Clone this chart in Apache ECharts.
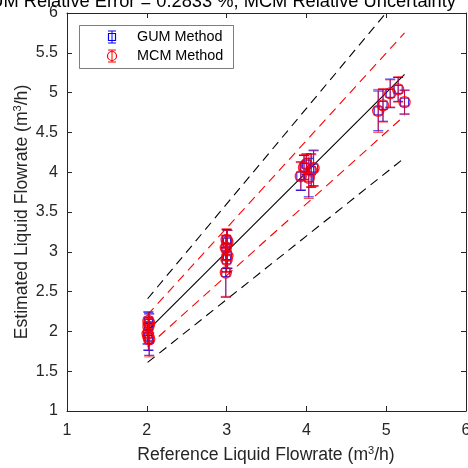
<!DOCTYPE html>
<html><head><meta charset="utf-8">
<script src="https://cdn.jsdelivr.net/npm/echarts@6/dist/echarts.min.js"></script>
<style>html,body{margin:0;padding:0;background:#fff}#c{width:468px;height:468px}</style>
</head><body><div id="c"></div>
<script>
// ---- data ----
const titleText = 'GUM Relative Error = 0.2833 %, MCM Relative Uncertainty';
const xLabel = 'Reference Liquid Flowrate (m{s|3}/h)';
const yLabel = 'Estimated Liquid Flowrate (m{s|3}/h)';
const legendNames = ['GUM Method', 'MCM Method'];
const xTicks = [1, 2, 3, 4, 5, 6];
const yTicks = [1, 1.5, 2, 2.5, 3, 3.5, 4, 4.5, 5, 5.5, 6];

const refFlow = [2.02, 2.03, 2.02, 2.01, 2.02, 2.03,
                 3.00, 3.01, 2.99, 3.01, 3.00, 2.99,
                 3.93, 3.97, 4.00, 4.03, 4.06, 4.09,
                 4.90, 4.96, 5.05, 5.15, 5.23];
const estFlow = [2.13, 2.10, 2.06, 1.97, 1.93, 1.90,
                 3.15, 3.12, 3.05, 2.95, 2.90, 2.74,
                 3.95, 4.06, 4.10, 3.93, 4.02, 4.05,
                 4.77, 4.84, 4.99, 5.04, 4.88];
const gumUnc  = [0.11, 0.12, 0.11, 0.13, 0.17, 0.20,
                 0.13, 0.15, 0.15, 0.16, 0.15, 0.31,
                 0.18, 0.15, 0.13, 0.24, 0.21, 0.22,
                 0.25, 0.20, 0.18, 0.15, 0.15];
const mcmUnc  = [0.12, 0.12, 0.12, 0.12, 0.16, 0.22,
                 0.14, 0.15, 0.16, 0.15, 0.16, 0.30,
                 0.17, 0.16, 0.12, 0.26, 0.20, 0.23,
                 0.27, 0.21, 0.17, 0.16, 0.15];

const lineX     = [2.01, 5.23];
const idealY    = [2.01, 5.23];
const upper20Y  = [2.41, 6.28];
const lower20Y  = [1.61, 4.18];
const upper10Y  = [2.21, 5.75];
const lower10Y  = [1.81, 4.71];

// ---- chart ----
const AX = '#262626';
const FONT = 'Liberation Sans, Arial, sans-serif';
const pairs = ys => lineX.map((x, i) => [x, ys[i]]);
const errData = unc => refFlow.map((x, i) => [x, estFlow[i], unc[i]]);
const ptData = refFlow.map((x, i) => [x, estFlow[i]]);

function errRender(color, opacity) {
  return function (params, api) {
    const x = api.value(0), y = api.value(1), e = api.value(2);
    const t = api.coord([x, y + e]), b = api.coord([x, y - e]);
    const h = 5;
    const st = { stroke: color, lineWidth: 1, opacity: opacity };
    return { type: 'group', children: [
      { type: 'line', shape: { x1: t[0], y1: t[1], x2: b[0], y2: b[1] }, style: st },
      { type: 'line', shape: { x1: t[0] - h, y1: t[1], x2: t[0] + h, y2: t[1] }, style: st },
      { type: 'line', shape: { x1: b[0] - h, y1: b[1], x2: b[0] + h, y2: b[1] }, style: st }
    ]};
  };
}

function lineSeries(ys, color, dashed) {
  return { type: 'line', data: pairs(ys), symbol: 'none', silent: true, clip: true,
    lineStyle: { color: color, width: 1.1, type: dashed ? [9, 6] : 'solid' }, z: 1 };
}

const axisCommon = {
  type: 'value', min: 1, max: 6,
  axisLine: { show: true, lineStyle: { color: AX, width: 1 } },
  axisTick: { show: true, inside: true, length: 5, lineStyle: { color: AX } },
  splitLine: { show: false }
};

const supStyle = { s: { fontSize: 11, fontFamily: FONT, fill: AX, verticalAlign: 'top', padding: [0, 0, 8, 0] } };

const chart = echarts.init(document.getElementById('c'), null, { renderer: 'canvas' });
chart.setOption({
  animation: false,
  backgroundColor: '#fff',
  grid: { left: 67, right: 2, top: 13, bottom: 57, containLabel: false, outerBoundsMode: 'none' },
  xAxis: [
    Object.assign({}, axisCommon, { position: 'bottom', interval: 1,
      axisLabel: { color: AX, fontSize: 16, fontFamily: FONT, margin: 12 } }),
    Object.assign({}, axisCommon, { position: 'top', interval: 1, axisLabel: { show: false } })
  ],
  yAxis: [
    Object.assign({}, axisCommon, { position: 'left', interval: 0.5,
      axisLabel: { color: AX, fontSize: 16, fontFamily: FONT, margin: 9,
        formatter: v => String(v) } }),
    Object.assign({}, axisCommon, { position: 'right', interval: 0.5, axisLabel: { show: false } })
  ],
  series: [
    lineSeries(idealY, '#000', false),
    lineSeries(upper20Y, '#000', true),
    lineSeries(lower20Y, '#000', true),
    lineSeries(upper10Y, '#ff0000', true),
    lineSeries(lower10Y, '#ff0000', true),
    { type: 'custom', name: legendNames[0], data: errData(gumUnc), renderItem: errRender('#0000ff', 0.9), z: 2 },
    { type: 'scatter', name: legendNames[0], data: ptData, symbol: 'rect', symbolSize: 8, z: 3,
      itemStyle: { color: 'rgba(0,0,0,0)', borderColor: '#0000ff', borderWidth: 1.2 } },
    { type: 'custom', name: legendNames[1], data: errData(mcmUnc), renderItem: errRender('#ff0000', 0.7), z: 4 },
    { type: 'scatter', name: legendNames[1], data: ptData, symbol: 'circle', symbolSize: 11, z: 5,
      itemStyle: { color: 'rgba(0,0,0,0)', borderColor: '#ff0000', borderWidth: 1.4, opacity: 0.85 } }
  ],
  graphic: [
    { type: 'text', x: 456, y: 11, z: 10,
      style: { text: titleText, fill: '#000', font: '18.3px ' + FONT, align: 'right', verticalAlign: 'bottom' } },
    { type: 'text', x: 266, y: 455, z: 10,
      style: { text: xLabel, fill: AX, fontSize: 17.6, fontFamily: FONT, align: 'center', verticalAlign: 'middle', rich: supStyle } },
    { type: 'text', x: 22, y: 212, rotation: Math.PI / 2, z: 10,
      style: { text: yLabel, fill: AX, fontSize: 17.6, fontFamily: FONT, align: 'center', verticalAlign: 'middle', rich: supStyle } },
    // legend
    { type: 'rect', z: 10, shape: { x: 79.5, y: 25.5, width: 154, height: 43 },
      style: { fill: '#fff', stroke: AX, lineWidth: 0.6 } },
    { type: 'line', z: 11, shape: { x1: 112, y1: 31, x2: 112, y2: 43 }, style: { stroke: '#0000ff', lineWidth: 1 } },
    { type: 'line', z: 11, shape: { x1: 108, y1: 31, x2: 116, y2: 31 }, style: { stroke: '#0000ff', lineWidth: 1 } },
    { type: 'line', z: 11, shape: { x1: 108, y1: 43, x2: 116, y2: 43 }, style: { stroke: '#0000ff', lineWidth: 1 } },
    { type: 'rect', z: 11, shape: { x: 108.5, y: 33.5, width: 7, height: 7 }, style: { fill: 'none', stroke: '#0000ff', lineWidth: 1.2 } },
    { type: 'text', z: 11, x: 137, y: 37, style: { text: legendNames[0], fill: '#000', fontSize: 14.4, fontFamily: FONT, verticalAlign: 'middle' } },
    { type: 'line', z: 11, shape: { x1: 112, y1: 50, x2: 112, y2: 62 }, style: { stroke: '#ff0000', lineWidth: 1 } },
    { type: 'line', z: 11, shape: { x1: 108, y1: 50, x2: 116, y2: 50 }, style: { stroke: '#ff0000', lineWidth: 1 } },
    { type: 'line', z: 11, shape: { x1: 108, y1: 62, x2: 116, y2: 62 }, style: { stroke: '#ff0000', lineWidth: 1 } },
    { type: 'circle', z: 11, shape: { cx: 112, cy: 56, r: 4.5 }, style: { fill: 'none', stroke: '#ff0000', lineWidth: 1.2 } },
    { type: 'text', z: 11, x: 137, y: 56, style: { text: legendNames[1], fill: '#000', fontSize: 14.4, fontFamily: FONT, verticalAlign: 'middle' } }
  ]
});
</script>
</body></html>
